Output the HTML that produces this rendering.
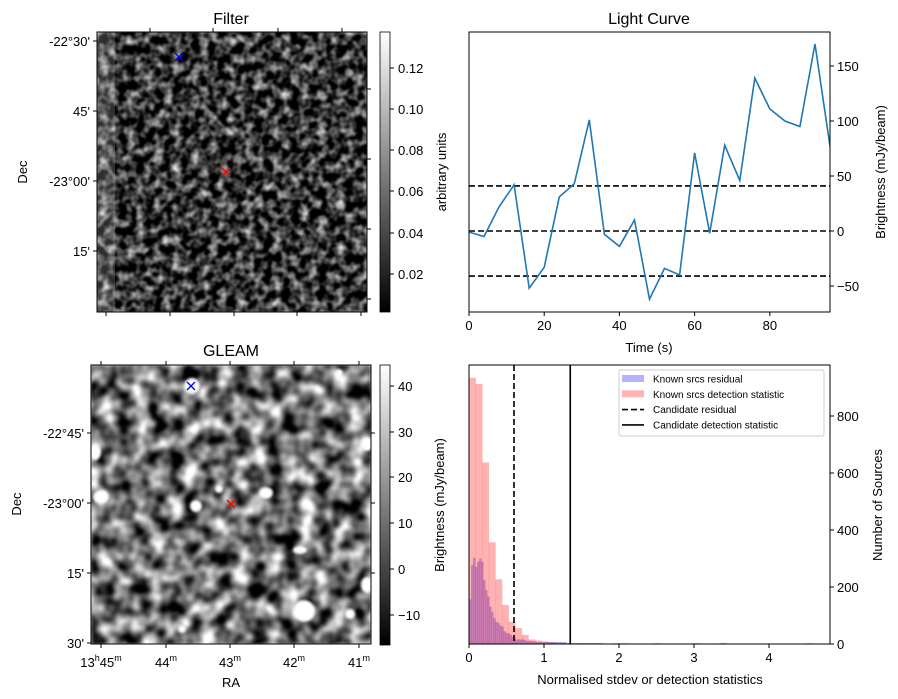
<!DOCTYPE html>
<html><head><meta charset="utf-8"><style>
html,body{margin:0;padding:0;background:#fff}
svg{display:block;font-family:"Liberation Sans","DejaVu Sans",sans-serif}
</style></head><body>
<svg id="fig" width="898" height="699" viewBox="0 0 898 699">
<defs>
<filter id="fnoise" x="0" y="0" width="100%" height="100%" color-interpolation-filters="sRGB">
<feTurbulence type="fractalNoise" baseFrequency="0.11" numOctaves="2" seed="4"/>
<feColorMatrix type="matrix" values="1 0 0 0 0 1 0 0 0 0 1 0 0 0 0 0 0 0 0 1"/>
<feComponentTransfer><feFuncR type="linear" slope="1.7" intercept="-0.63"/><feFuncG type="linear" slope="1.7" intercept="-0.63"/><feFuncB type="linear" slope="1.7" intercept="-0.63"/></feComponentTransfer>
<feGaussianBlur stdDeviation="0.6"/>
</filter>
<filter id="gnoise" x="0" y="0" width="100%" height="100%" color-interpolation-filters="sRGB">
<feTurbulence type="fractalNoise" baseFrequency="0.06" numOctaves="2" seed="9"/>
<feColorMatrix type="matrix" values="1 0 0 0 0 1 0 0 0 0 1 0 0 0 0 0 0 0 0 1"/>
<feComponentTransfer><feFuncR type="linear" slope="2" intercept="-0.55"/><feFuncG type="linear" slope="2" intercept="-0.55"/><feFuncB type="linear" slope="2" intercept="-0.55"/></feComponentTransfer>
<feGaussianBlur stdDeviation="1"/>
</filter>
<linearGradient id="cbar" x1="0" y1="1" x2="0" y2="0"><stop offset="0" stop-color="#000"/><stop offset="1" stop-color="#fff"/></linearGradient>
<filter id="soft"><feGaussianBlur stdDeviation="1.2"/></filter>
</defs>

<!-- Filter panel -->
<g>
<text x="231" y="24" font-size="16" text-anchor="middle">Filter</text>
<rect x="97" y="32" width="270" height="280" fill="#333" filter="url(#fnoise)"/>
<rect x="97" y="32" width="18" height="280" fill="#fff" opacity="0.18"/>
<rect x="97" y="32" width="270" height="280" fill="none" stroke="#000" stroke-width="1"/>
<g stroke="#000" stroke-width="1">
<line x1="93" y1="41" x2="97" y2="41"/><line x1="93" y1="111" x2="97" y2="111"/><line x1="93" y1="181" x2="97" y2="181"/><line x1="93" y1="251" x2="97" y2="251"/>
<line x1="367" y1="89" x2="371" y2="89"/><line x1="367" y1="159" x2="371" y2="159"/><line x1="367" y1="229" x2="371" y2="229"/><line x1="367" y1="299" x2="371" y2="299"/>
<line x1="150" y1="28" x2="150" y2="32"/><line x1="213" y1="28" x2="213" y2="32"/><line x1="278" y1="28" x2="278" y2="32"/><line x1="342" y1="28" x2="342" y2="32"/>
<line x1="106" y1="312" x2="106" y2="316"/><line x1="170" y1="312" x2="170" y2="316"/><line x1="234" y1="312" x2="234" y2="316"/><line x1="297" y1="312" x2="297" y2="316"/><line x1="361" y1="312" x2="361" y2="316"/>
</g>
<g font-size="13" text-anchor="end">
<text x="90" y="46">-22°30'</text>
<text x="90" y="116">45'</text>
<text x="90" y="186">-23°00'</text>
<text x="90" y="256">15'</text>
</g>
<text transform="translate(27,172) rotate(-90)" font-size="13" text-anchor="middle">Dec</text>
<g stroke-width="1.3"><line x1="175" y1="53" x2="183" y2="61" stroke="#00f"/><line x1="175" y1="61" x2="183" y2="53" stroke="#00f"/></g>
<circle cx="226" cy="172" r="5" fill="#bbb" opacity="0.5" filter="url(#soft)"/>
<g stroke-width="1.3"><line x1="222" y1="168" x2="230" y2="176" stroke="#f00"/><line x1="222" y1="176" x2="230" y2="168" stroke="#f00"/></g>
<rect x="380" y="32" width="10" height="280" fill="url(#cbar)" stroke="#000" stroke-width="0.8"/>
<g stroke="#000"><line x1="390" y1="68" x2="394" y2="68"/><line x1="390" y1="109" x2="394" y2="109"/><line x1="390" y1="150" x2="394" y2="150"/><line x1="390" y1="191" x2="394" y2="191"/><line x1="390" y1="233" x2="394" y2="233"/><line x1="390" y1="274" x2="394" y2="274"/></g>
<g font-size="13"><text x="398" y="73">0.12</text><text x="398" y="114">0.10</text><text x="398" y="155">0.08</text><text x="398" y="196">0.06</text><text x="398" y="238">0.04</text><text x="398" y="279">0.02</text></g>
<text transform="translate(446,172) rotate(-90)" font-size="13" text-anchor="middle">arbitrary units</text>
</g>

<!-- GLEAM panel -->
<g>
<text x="231" y="356" font-size="16" text-anchor="middle">GLEAM</text>
<rect x="91" y="365" width="280" height="279" fill="#777" filter="url(#gnoise)"/>
<g fill="#fff" filter="url(#soft)">
<circle cx="192" cy="386" r="8"/><ellipse cx="95" cy="452" rx="6" ry="8"/><ellipse cx="101" cy="497" rx="8" ry="7"/><circle cx="196" cy="506" r="6"/><ellipse cx="266" cy="493" rx="7" ry="6"/><circle cx="219" cy="489" r="4"/><circle cx="304" cy="611" r="11"/><ellipse cx="367" cy="585" rx="6" ry="8"/><ellipse cx="367" cy="444" rx="6" ry="7"/><circle cx="350" cy="614" r="5"/><ellipse cx="300" cy="550" rx="7" ry="4"/><circle cx="182" cy="629" r="4"/><circle cx="339" cy="373" r="4"/>
</g>
<rect x="91" y="365" width="280" height="279" fill="none" stroke="#000"/>
<g stroke="#000">
<line x1="87" y1="433" x2="91" y2="433"/><line x1="87" y1="503" x2="91" y2="503"/><line x1="87" y1="573" x2="91" y2="573"/><line x1="87" y1="643" x2="91" y2="643"/>
<line x1="371" y1="433" x2="375" y2="433"/><line x1="371" y1="503" x2="375" y2="503"/><line x1="371" y1="573" x2="375" y2="573"/>
<line x1="101" y1="361" x2="101" y2="365"/><line x1="166" y1="361" x2="166" y2="365"/><line x1="230" y1="361" x2="230" y2="365"/><line x1="294" y1="361" x2="294" y2="365"/><line x1="359" y1="361" x2="359" y2="365"/>
<line x1="101" y1="644" x2="101" y2="648"/><line x1="166" y1="644" x2="166" y2="648"/><line x1="230" y1="644" x2="230" y2="648"/><line x1="294" y1="644" x2="294" y2="648"/><line x1="359" y1="644" x2="359" y2="648"/>
</g>
<g font-size="13" text-anchor="end"><text x="84" y="438">-22°45'</text><text x="84" y="508">-23°00'</text><text x="84" y="578">15'</text><text x="84" y="648">30'</text></g>
<g font-size="13" text-anchor="middle">
<text x="101" y="667">13<tspan font-size="9" dy="-6">h</tspan><tspan dy="6">45</tspan><tspan font-size="9" dy="-6">m</tspan></text>
<text x="166" y="667">44<tspan font-size="9" dy="-6">m</tspan></text>
<text x="230" y="667">43<tspan font-size="9" dy="-6">m</tspan></text>
<text x="294" y="667">42<tspan font-size="9" dy="-6">m</tspan></text>
<text x="359" y="667">41<tspan font-size="9" dy="-6">m</tspan></text>
</g>
<text x="231" y="687" font-size="13" text-anchor="middle">RA</text>
<text transform="translate(21,504) rotate(-90)" font-size="13" text-anchor="middle">Dec</text>
<g stroke-width="1.3"><line x1="187" y1="382" x2="195" y2="390" stroke="#00f"/><line x1="187" y1="390" x2="195" y2="382" stroke="#00f"/></g>
<g stroke-width="1.3"><line x1="227" y1="500" x2="235" y2="508" stroke="#f00"/><line x1="227" y1="508" x2="235" y2="500" stroke="#f00"/></g>
<rect x="380" y="365" width="10" height="280" fill="url(#cbar)" stroke="#000" stroke-width="0.8"/>
<g stroke="#000"><line x1="390" y1="386" x2="394" y2="386"/><line x1="390" y1="432" x2="394" y2="432"/><line x1="390" y1="477" x2="394" y2="477"/><line x1="390" y1="523" x2="394" y2="523"/><line x1="390" y1="569" x2="394" y2="569"/><line x1="390" y1="615" x2="394" y2="615"/></g>
<g font-size="13"><text x="398" y="391">40</text><text x="398" y="437">30</text><text x="398" y="482">20</text><text x="398" y="528">10</text><text x="398" y="574">0</text><text x="398" y="620">−10</text></g>
<text transform="translate(444,505) rotate(-90)" font-size="13" text-anchor="middle">Brightness (mJy/beam)</text>
</g>

<g id="lc"></g>
<g id="hist"></g>
</svg>
<script>
// Light curve data
const lcTimes = [0,4,8,12,16,20,24,28,32,36,40,44,48,52,56,60,64,68,72,76,80,84,88,92,96];
const lcValues = [-1,-5,22,42,-52,-33,31,43,101,-3,-14,10,-62,-34,-40,71,-2,78,46,139,111,100,95,170,77];
const lcThresholds = [41,0,-41];
const lcXTicks = [0,20,40,60,80];
const lcYTicks = [-50,0,50,100,150];
// Histogram data
const pinkBinWidth = 0.088;
const pinkCounts = [934,912,637,357,227,137,78,56,32,16,12,9,6,4,3,2,2,1,1,0,0,0,3,3,0,0,0,0,3,0,0,0,0,0,3,0,0,0,4,0,0,0,0,0,0,0,0,0,0,0,0,3,0,0];
const blueBinWidth = 0.027;
const blueCounts = [157,277,302,271,289,300,289,225,189,166,131,113,90,78,74,65,61,45,39,37,33,25,21,16,17,15,17,14,11,10,11,9,9,7,7,7,7,7,7,7,7,7,7,7,7,7,7,7,3,3,3,3,3,3,3,3,3,3,3,3,3,3,3,3,3,3];
const candResidual = 0.6;
const candDetection = 1.35;
const histXTicks = [0,1,2,3,4];
const histYTicks = [0,200,400,600,800];

const NS='http://www.w3.org/2000/svg';
function mk(parent,tag,attrs,text){const e=document.createElementNS(NS,tag);for(const k in attrs)e.setAttribute(k,attrs[k]);if(text!==undefined)e.textContent=text;parent.appendChild(e);return e;}

// ---- Light curve
(function(){
const g=document.getElementById('lc');
const L=469,R=830,T=32,B=312;
const xs=t=>L+(t-0)/96*(R-L);
const ys=v=>231-v*1.1;
const title=mk(g,'text',{x:649,y:24,'font-size':16,'text-anchor':'middle'},'Light Curve');


for(const th of lcThresholds){
 const l=mk(g,'line',{x1:L,x2:R,y1:ys(th),y2:ys(th),stroke:'#000','stroke-width':1.6,'stroke-dasharray':'6,3'});
 
 
}
const pts=lcTimes.map((t,i)=>xs(t).toFixed(1)+','+ys(lcValues[i]).toFixed(1)).join(' ');
const cp=mk(g,'clipPath',{id:'lcclip'});mk(cp,'rect',{x:L,y:T,width:R-L,height:B-T});
const pl=mk(g,'polyline',{points:pts,fill:'none',stroke:'#1f77b4','stroke-width':1.6,'clip-path':'url(#lcclip)'});


mk(g,'rect',{x:L,y:T,width:R-L,height:B-T,fill:'none',stroke:'#000'});
for(const t of lcXTicks){
 mk(g,'line',{x1:xs(t),x2:xs(t),y1:B,y2:B+4,stroke:'#000'});
 const tl=mk(g,'text',{x:xs(t),y:B+18,'font-size':13,'text-anchor':'middle'},String(t));
 
 
}
for(const v of lcYTicks){
 mk(g,'line',{x1:R,x2:R+4,y1:ys(v),y2:ys(v),stroke:'#000'});
 const tl=mk(g,'text',{x:R+7,y:ys(v)+5,'font-size':13},v<0?'−'+Math.abs(v):String(v));
 
 
}
const xl=mk(g,'text',{x:649,y:352,'font-size':13,'text-anchor':'middle'},'Time (s)');


const yl=mk(g,'text',{transform:'translate(885,172) rotate(-90)','font-size':13,'text-anchor':'middle'},'Brightness (mJy/beam)');


})();

// ---- Histogram
(function(){
const g=document.getElementById('hist');
const L=469,R=830,T=365,B=644;
const xs=v=>L+v*75;
const ys=c=>B-c*0.285;
const cp=mk(g,'clipPath',{id:'hclip'});mk(cp,'rect',{x:L,y:T,width:R-L,height:B-T});
const bars=mk(g,'g',{'clip-path':'url(#hclip)'});
blueCounts.forEach((c,i)=>{ if(!c)return;
 const r=mk(bars,'rect',{x:xs(i*blueBinWidth),y:ys(c),width:xs((i+1)*blueBinWidth)-xs(i*blueBinWidth)+0.3,height:B-ys(c),fill:'#0000ff','fill-opacity':0.3});
 
 
});
pinkCounts.forEach((c,i)=>{ if(!c)return;
 const r=mk(bars,'rect',{x:xs(i*pinkBinWidth),y:ys(c),width:xs((i+1)*pinkBinWidth)-xs(i*pinkBinWidth)+0.3,height:B-ys(c),fill:'#ff0000','fill-opacity':0.3});
 
 
});
const d1=mk(g,'line',{x1:xs(candResidual),x2:xs(candResidual),y1:T,y2:B,stroke:'#000','stroke-width':1.6,'stroke-dasharray':'6,3'});


const d2=mk(g,'line',{x1:xs(candDetection),x2:xs(candDetection),y1:T,y2:B,stroke:'#000','stroke-width':1.6});


mk(g,'rect',{x:L,y:T,width:R-L,height:B-T,fill:'none',stroke:'#000'});
for(const t of histXTicks){
 mk(g,'line',{x1:xs(t),x2:xs(t),y1:B,y2:B+4,stroke:'#000'});
 const tl=mk(g,'text',{x:xs(t),y:B+18,'font-size':13,'text-anchor':'middle'},String(t));
 
 
}
for(const v of histYTicks){
 mk(g,'line',{x1:R,x2:R+4,y1:ys(v),y2:ys(v),stroke:'#000'});
 const tl=mk(g,'text',{x:R+7,y:ys(v)+5,'font-size':13},String(v));
 
 
}
const xl=mk(g,'text',{x:650,y:684,'font-size':13,'text-anchor':'middle'},'Normalised stdev or detection statistics');


const yl=mk(g,'text',{transform:'translate(882,505) rotate(-90)','font-size':13,'text-anchor':'middle'},'Number of Sources');


// legend
const lg=mk(g,'g',{});


mk(lg,'rect',{x:619,y:370,width:205,height:66,rx:2,fill:'#fff','fill-opacity':0.8,stroke:'#ccc'});
const items=[['b','Known srcs residual'],['r','Known srcs detection statistic'],['d','Candidate residual'],['s','Candidate detection statistic']];
items.forEach((it,i)=>{
 const y=379+i*15.3;
 if(it[0]==='b')mk(lg,'rect',{x:622,y:y-4,width:22,height:7,fill:'#b3b3ff'});
 if(it[0]==='r')mk(lg,'rect',{x:622,y:y-4,width:22,height:7,fill:'#ffb3b3'});
 if(it[0]==='d')mk(lg,'line',{x1:622,x2:644,y1:y,y2:y,stroke:'#000','stroke-width':1.6,'stroke-dasharray':'6,3'});
 if(it[0]==='s')mk(lg,'line',{x1:622,x2:644,y1:y,y2:y,stroke:'#000','stroke-width':1.6});
 const t=mk(lg,'text',{x:653,y:y+3.5,'font-size':10},it[1]);
 
 
});
})();
</script>
</body></html>
